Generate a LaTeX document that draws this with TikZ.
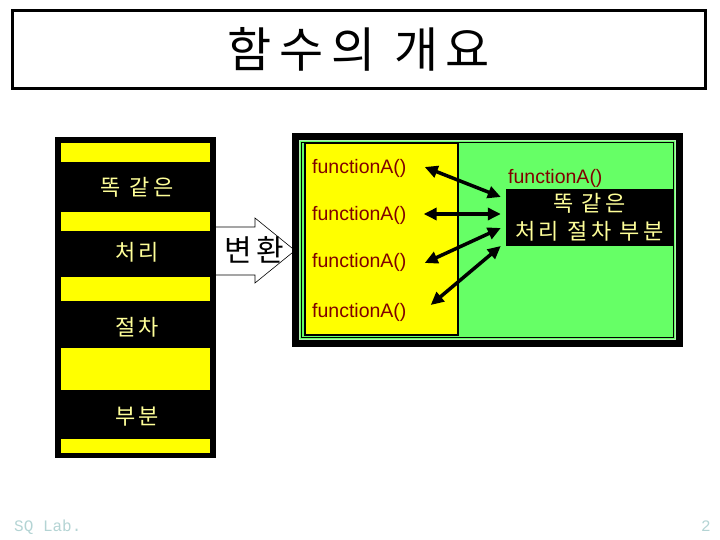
\documentclass[tikz,border=0pt]{standalone}
\usepackage{fontspec}
\setmainfont{Liberation Sans}
\newfontfamily\kr[LetterSpace=16]{Noto Sans CJK KR}
\newfontfamily\labfont{Liberation Mono}
\usetikzlibrary{arrows.meta}
\definecolor{barYellow}{RGB}{255,255,0}
\definecolor{paleText}{RGB}{255,255,153}
\definecolor{boxGreen}{RGB}{102,255,102}
\definecolor{edgeGreen}{RGB}{175,240,175}
\definecolor{fnRed}{RGB}{128,0,0}
\definecolor{footGray}{RGB}{180,212,212}
\tikzset{
  leftword/.style={text=paleText,font=\kr\fontsize{22}{26}\selectfont},
  fn/.style={text=fnRed,font=\fontsize{19.5}{22}\selectfont,anchor=west},
  link/.style={line width=3.5pt,{Triangle[length=13pt,width=12pt]}-{Triangle[length=13pt,width=12pt]}},
  foot/.style={text=footGray,font=\labfont\fontsize{16}{18}\selectfont}
}
\begin{document}
\begin{tikzpicture}[x=1pt,y=-1pt,every node/.style={inner sep=0pt}]
	\useasboundingbox (0,0) rectangle (720,540);
	\node[draw,line width=3pt,minimum width=693pt,minimum height=78pt] (title) at (359,49.5) {\kr\fontsize{48}{52}\selectfont 함수의 개요};
	% left column
	\fill (55,137) rectangle (216,458);
	\foreach \t/\b in {143/162,212/231,277/301,348/390,439/453}
		\fill[barYellow] (61,\t) rectangle (210,\b);
	\foreach \y/\n/\txt in {187/1/똑 같은,252/2/처리,327/3/절차,417/4/부분}
		\node[leftword] (w\n) at (137,\y) {\txt};
	% conversion arrow
	\draw[fill=white,line width=0.6pt] (216,227) -- (255,227) -- (255,218) -- (295,250.5) -- (255,283) -- (255,275) -- (216,275);
	\node[font=\kr\fontsize{30}{32}\selectfont] (conv) at (254,250) {변환};
	% right box
	\fill (292,133) rectangle (683,347);
	\draw[edgeGreen,fill=boxGreen,line width=1.5pt] (299.5,140.5) rectangle (675.5,339.5);
	\draw[line width=0.8pt] (301.5,142.5) rectangle (673.5,337.5);
	\draw[fill=barYellow,line width=2.5pt] (305,143) rectangle (458,335);
	\foreach \y [count=\i] in {168,215,262,312}
		\node[fn] (f\i) at (312,\y) {functionA()};
	\node[fn] (fr) at (508,178) {functionA()};
	\node[fill=black,minimum width=167pt,minimum height=57pt,align=center,leftword,font=\kr\fontsize{22}{28}\selectfont] (same) at (589.5,217.5) {똑 같은\\처리 절차 부분};
	\foreach \i/\dx/\dy/\sy in {1/18/-1/-20.5,2/17/-1/-3.5,3/18/1/10.5,4/24/-7/28.5}
		\draw[link] ([shift={(\dx,\dy)}]f\i.east) -- ([shift={(-5,\sy)}]same.west);
	% footer
	\node[foot,anchor=west] (lab) at (14,527) {SQ Lab.};
	\node[foot] (page) at (706,526) {2};
\end{tikzpicture}
\end{document}
